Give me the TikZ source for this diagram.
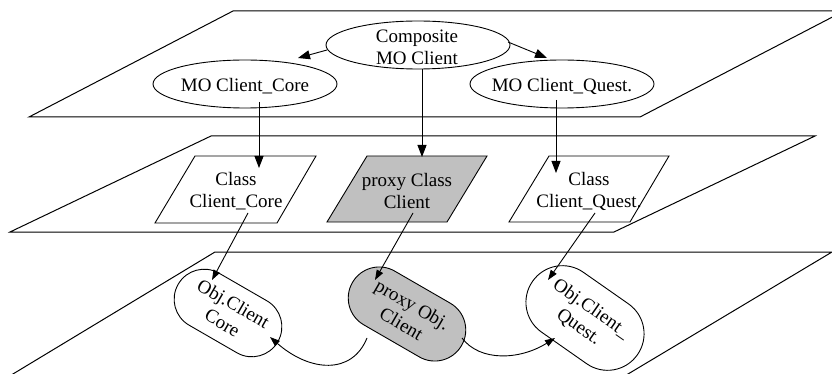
\documentclass[tikz,border=0pt]{standalone}
\usepackage{fontspec}
\setmainfont{Liberation Serif}
\usetikzlibrary{arrows.meta,shapes.geometric}
\definecolor{boxgray}{RGB}{192,192,192}
\begin{document}
\begin{tikzpicture}[x=1pt,y=-1pt,line width=0.9pt,
  plane/.style={line width=1pt},
  arr/.style={-{Triangle[length=12pt,width=9pt]}},
  sarr/.style={-{Triangle[length=10pt,width=7pt]}},
  txt/.style={font=\fontsize{19}{22}\selectfont,align=center,inner sep=0pt},
  oval/.style={draw,ellipse,minimum width=184pt,minimum height=48pt,inner sep=0pt},
  parabox/.style={draw,fill=#1},
  stad/.style={draw,rectangle,inner sep=0pt,align=center,font=\fontsize{19}{22}\selectfont},
]
\useasboundingbox (0,0) rectangle (832,374);
% planes
\draw[plane] (29,117) -- (233,11) -- (844,11) -- (640,117) -- cycle;
\draw[plane] (10,232) -- (211,136) -- (815,136) -- (614,232) -- cycle;
\draw[plane] (3,380) -- (215,252) -- (832,252) -- (618,380);
% top layer
\node[oval] (comp) at (418,45) {};
\node[txt] (compt) at (417,47) {Composite\\MO Client};
\node[oval] (core) at (245,84) {};
\node[txt] (coret) at (245,86) {MO Client\_Core};
\node[oval] (quest) at (562,84) {};
\node[txt] (questt) at (562,86) {MO Client\_Quest.};
% middle layer
\draw[parabox=white] (155,223) -- (195,156) -- (316,156) -- (277,223) -- cycle;
\draw[parabox=boxgray] (327,222) -- (367,156) -- (487,156) -- (447,222) -- cycle;
\draw[parabox=white] (509,222) -- (549,156) -- (669,156) -- (630,222) -- cycle;
\node[txt] (cc) at (236,191) {Class\\Client\_Core};
\node[txt] (pc) at (407,191) {proxy Class\\Client};
\node[txt] (qc) at (589,191) {Class\\Client\_Quest.};
% bottom layer
\node[stad,fill=white,rotate=-30,minimum width=115pt,minimum height=60pt,rounded corners=29.9pt] (oc) at (228,313) {Obj.Client\\Core};
\node[stad,fill=boxgray,rotate=-30,minimum width=126pt,minimum height=62pt,rounded corners=30.9pt] (po) at (407,314) {proxy Obj.\\Client};
\node[stad,fill=white,rotate=-35,minimum width=128pt,minimum height=73pt,rounded corners=36.4pt] (oq) at (585,318) {Obj.Client\_\\Quest.};
% connector end points
\coordinate (c1s) at (327,50);  \coordinate (c1e) at (298,58);
\coordinate (c2s) at (508,42);  \coordinate (c2e) at (547,58);
\coordinate (v1s) at (259,102); \coordinate (v1e) at (259,168);
\coordinate (v2s) at (422,69);  \coordinate (v2e) at (422,157);
\coordinate (v3s) at (556,100); \coordinate (v3e) at (556,173);
\coordinate (d1s) at (248,213); \coordinate (d1e) at (212,280);
\coordinate (d2s) at (413,213); \coordinate (d2e) at (375,280);
\coordinate (d3s) at (595,213); \coordinate (d3e) at (548,280);
\coordinate (b1s) at (367,338); \coordinate (b1e) at (270,337);
\coordinate (b2s) at (462,338); \coordinate (b2e) at (555,338);
% connectors
\draw[arr] (c1s) -- (c1e);
\draw[arr] (c2s) -- (c2e);
\draw[arr] (v1s) -- (v1e);
\draw[arr] (v2s) -- (v2e);
\draw[arr] (v3s) -- (v3e);
\draw[sarr] (d1s) -- (d1e);
\draw[sarr] (d2s) -- (d2e);
\draw[sarr] (d3s) -- (d3e);
\draw[sarr] (b1s) .. controls (352,375) and (310,372) .. (b1e);
\draw[sarr] (b2s) .. controls (480,362) and (520,360) .. (b2e);
\end{tikzpicture}
\end{document}
